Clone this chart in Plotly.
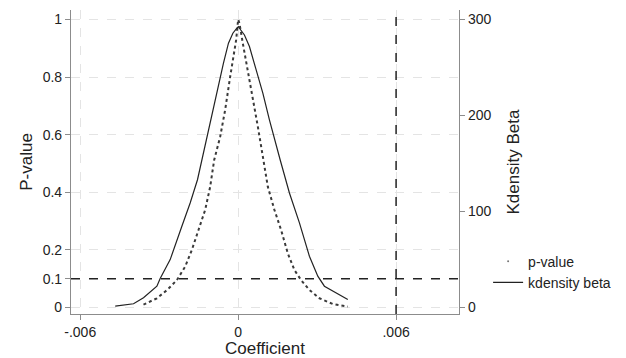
import plotly.graph_objects as go

# ---- data ----
# kdensity of beta (right axis), x in coefficient units
kd_x = [-0.00467, -0.003975, -0.003596, -0.003087, -0.002962, -0.002582, -0.002138,
        -0.001823, -0.001545, -0.001378, -0.001063, -0.000809, -0.000558, -0.000368,
        -0.000201, -0.000049, 0.000011, 0.000049, 0.000239, 0.000429, 0.000683,
        0.000938, 0.001188, 0.001443, 0.001595, 0.001948, 0.002328, 0.002707,
        0.003026, 0.003277, 0.003721, 0.004165]
kd_y = [1.4, 3.9, 10.1, 22.2, 30.2, 49.9, 84.6, 108.9, 133.1, 153.9, 192.1, 223.3,
        254.5, 275.3, 285.7, 290.9, 292.6, 290.9, 283.9, 271.8, 247.5, 223.3, 195.5,
        167.8, 153.9, 119.3, 88.1, 53.4, 32.6, 22.2, 15.3, 8.3]

# p-value vs coefficient (left axis)
pv_x = [-0.003596, -0.003466, -0.003087, -0.002707, -0.002328, -0.002012, -0.001758,
        -0.001507, -0.001253, -0.001063, -0.000911, -0.000683, -0.000494, -0.000304,
        -0.000076, 0.0, 0.000049, 0.000178, 0.000368, 0.000558, 0.000748, 0.000938,
        0.001128, 0.001378, 0.001632, 0.001887, 0.002138, 0.002392, 0.002707,
        0.003087, 0.003596, 0.004165]
pv_y = [0.010, 0.015, 0.032, 0.060, 0.095, 0.142, 0.200, 0.269, 0.339, 0.419, 0.512,
        0.593, 0.686, 0.801, 0.929, 1.0, 0.987, 0.917, 0.825, 0.720, 0.628, 0.524,
        0.419, 0.339, 0.269, 0.188, 0.130, 0.095, 0.061, 0.032, 0.012, 0.003]

x_tickvals = [-0.006, 0, 0.006]
x_ticktext = ["-.006", "0", ".006"]
y_tickvals = [0, 0.1, 0.2, 0.4, 0.6, 0.8, 1]
y_ticktext = ["0", "0.1", "0.2", "0.4", "0.6", "0.8", "1"]
y2_tickvals = [0, 100, 200, 300]

p_threshold = 0.1
x_reference = 0.006

FONT = "Liberation Sans, Arial, Helvetica, sans-serif"
AX = "#8c8c8c"
GRID = "#e4e4e4"

fig = go.Figure()

fig.add_trace(go.Scatter(
    x=pv_x, y=pv_y, mode="lines", name="p-value", showlegend=False,
    line=dict(color="#3a3a3a", width=2, dash="dot"), yaxis="y"))
# legend marker for p-value (no data)
fig.add_trace(go.Scatter(
    x=[None], y=[None], mode="markers", name="p-value",
    marker=dict(color="#777777", size=2), yaxis="y"))
fig.add_trace(go.Scatter(
    x=kd_x, y=kd_y, mode="lines", name="kdensity beta",
    line=dict(color="#222222", width=1.2), yaxis="y2"))

# reference dashed lines
fig.add_shape(type="line", xref="paper", yref="y", x0=0, x1=1,
              y0=p_threshold, y1=p_threshold,
              line=dict(color="#222222", width=1.5, dash="dash"))
fig.add_shape(type="line", xref="x", yref="paper", x0=x_reference, x1=x_reference,
              y0=0, y1=1, line=dict(color="#222222", width=1.5, dash="dash"))

# the page body has an 8px margin, so the figure is sized/offset to compensate
fig.update_layout(
    width=618, height=350,
    margin=dict(l=63, r=167, t=2, b=44),
    paper_bgcolor="white", plot_bgcolor="white",
    font=dict(family=FONT, size=14, color="#222222"),
    xaxis=dict(
        range=[-0.00635, 0.00839], tickvals=x_tickvals, ticktext=x_ticktext,
        showline=True, linecolor=AX, linewidth=1.2, ticks="outside", ticklen=5,
        tickcolor=AX, showgrid=True, gridcolor=GRID, griddash="dash", gridwidth=1,
        zeroline=False, title=dict(text="Coefficient", standoff=6),
        tickfont=dict(size=14), automargin=False),
    yaxis=dict(
        range=[-0.0226, 1.033], tickvals=y_tickvals, ticktext=y_ticktext,
        showline=True, linecolor=AX, linewidth=1.2, ticks="outside", ticklen=5,
        tickcolor=AX, showgrid=True, gridcolor=GRID, griddash="dash", gridwidth=1,
        zeroline=False, title=dict(text="P-value", standoff=5),
        tickfont=dict(size=14), automargin=False),
    yaxis2=dict(
        range=[-0.0226 * 300, 1.033 * 300], tickvals=y2_tickvals,
        overlaying="y", side="right", anchor="x",
        showline=True, linecolor=AX, linewidth=1.2, ticks="outside", ticklen=5,
        tickcolor=AX, showgrid=False, zeroline=False,
        title=dict(text="Kdensity Beta", standoff=16),
        tickfont=dict(size=14), automargin=False),
    legend=dict(
        x=1.075, xanchor="left", y=0.225, yanchor="top",
        bgcolor="rgba(0,0,0,0)", font=dict(size=14), tracegroupgap=0),
)

fig.write_html("out.html")
